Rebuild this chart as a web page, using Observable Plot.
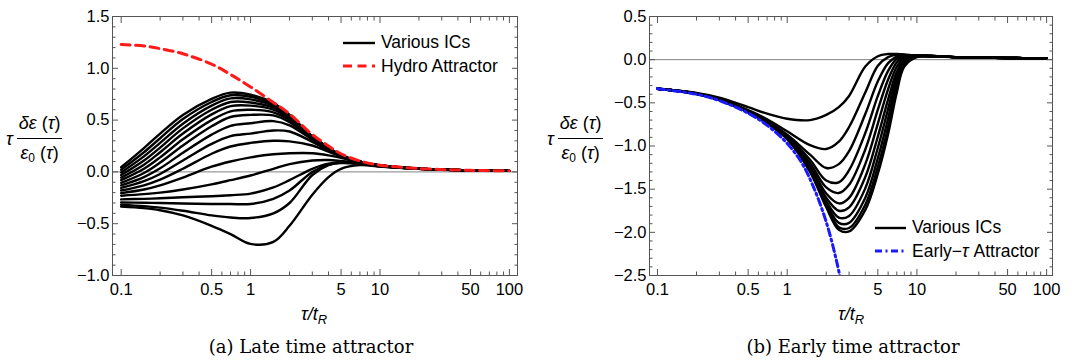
<!DOCTYPE html>
<html>
<head>
<meta charset="utf-8">
<script src="https://cdn.jsdelivr.net/npm/d3@7"></script>
<script src="https://cdn.jsdelivr.net/npm/@observablehq/plot@0.6"></script>
<style>
  body { margin: 0; background: #fff; }
  #root { position: relative; width: 1080px; height: 363px; overflow: hidden; font-family: "Liberation Sans", Arial, sans-serif; color: #000; }
  .panel { position: absolute; top: 0; width: 540px; height: 363px; }
  .panel svg.plot { position: absolute; left: 0; top: 0; }
  .caption { position: absolute; top: 336px; left: 0; text-align: center; font-family: "DejaVu Serif", serif; font-size: 18px; white-space: nowrap; }
  .xlabel { position: absolute; top: 304px; font-size: 18px; font-style: italic; white-space: nowrap; }
  .xlabel sub { font-size: 13px; vertical-align: -4px; }
  .ylabel { position: absolute; top: 113px; display: flex; align-items: center; font-size: 18px; }
  .ylabel .tau { font-style: italic; margin-right: 4px; }
  .frac { display: flex; flex-direction: column; align-items: center; }
  .frac .num { padding: 0 2px 4px 2px; border-bottom: 1px solid #000; white-space: nowrap; }
  .frac .den { padding: 4px 2px 0 2px; white-space: nowrap; }
  .frac i { font-style: italic; }
  .frac sub { font-size: 12px; vertical-align: -3px; }
  .legend { position: absolute; font-size: 17.5px; }
  .legend .row { display: flex; align-items: center; height: 23.5px; white-space: nowrap; }
  .legend svg { margin-right: 6px; }
</style>
</head>
<body>
<div id="root"></div>
<script>
// ---------- shared axis ticks ----------
const xMajorTicks = [0.1, 0.5, 1, 5, 10, 50, 100];
const xMinorTicks = [0.2, 0.3, 0.4, 0.6, 0.7, 0.8, 0.9, 2, 3, 4, 6, 7, 8, 9, 20, 30, 40, 60, 70, 80, 90];
const yMajorLate = [-1, -0.5, 0, 0.5, 1, 1.5];
const yMajorEarly = [-2.5, -2, -1.5, -1, -0.5, 0, 0.5];

// ---------- panel (a): late time attractor ----------
const tauLate = [0.1, 0.15, 0.2, 0.3, 0.5, 0.7, 1, 1.5, 2, 3, 4, 5, 7, 10, 20, 50, 100];
const hydroAttractor = [1.23, 1.215, 1.19, 1.14, 1.04, 0.94, 0.82, 0.67, 0.56, 0.36, 0.25, 0.175, 0.105, 0.065, 0.033, 0.015, 0.01];
const lateICs = [
  [0.045, 0.23, 0.37, 0.55, 0.705, 0.765, 0.745, 0.665, 0.55, 0.345, 0.235, 0.163, 0.10, 0.063, 0.032, 0.015, 0.01],
  [0.02, 0.19, 0.325, 0.51, 0.675, 0.74, 0.725, 0.652, 0.543, 0.342, 0.233, 0.162, 0.10, 0.063, 0.032, 0.015, 0.01],
  [-0.005, 0.15, 0.28, 0.465, 0.64, 0.71, 0.70, 0.638, 0.535, 0.339, 0.231, 0.161, 0.099, 0.063, 0.032, 0.015, 0.01],
  [-0.03, 0.11, 0.235, 0.42, 0.60, 0.675, 0.67, 0.62, 0.525, 0.335, 0.229, 0.16, 0.099, 0.062, 0.032, 0.015, 0.01],
  [-0.055, 0.07, 0.19, 0.37, 0.555, 0.635, 0.64, 0.60, 0.512, 0.331, 0.227, 0.159, 0.098, 0.062, 0.032, 0.015, 0.01],
  [-0.08, 0.03, 0.14, 0.315, 0.50, 0.585, 0.60, 0.575, 0.498, 0.326, 0.225, 0.158, 0.098, 0.062, 0.032, 0.015, 0.01],
  [-0.105, -0.01, 0.09, 0.255, 0.44, 0.53, 0.55, 0.545, 0.48, 0.32, 0.222, 0.157, 0.097, 0.062, 0.032, 0.015, 0.01],
  [-0.13, -0.05, 0.035, 0.185, 0.36, 0.445, 0.47, 0.49, 0.45, 0.31, 0.218, 0.155, 0.097, 0.061, 0.032, 0.015, 0.01],
  [-0.155, -0.09, -0.02, 0.11, 0.27, 0.345, 0.37, 0.40, 0.39, 0.29, 0.21, 0.152, 0.096, 0.061, 0.032, 0.015, 0.01],
  [-0.18, -0.13, -0.075, 0.03, 0.175, 0.245, 0.28, 0.30, 0.295, 0.255, 0.195, 0.148, 0.095, 0.061, 0.032, 0.015, 0.01],
  [-0.205, -0.17, -0.13, -0.055, 0.05, 0.10, 0.14, 0.17, 0.18, 0.18, 0.16, 0.135, 0.092, 0.06, 0.032, 0.015, 0.01],
  [-0.23, -0.215, -0.2, -0.17, -0.12, -0.08, -0.035, 0.03, 0.075, 0.11, 0.115, 0.105, 0.085, 0.058, 0.031, 0.015, 0.01],
  [-0.265, -0.26, -0.255, -0.245, -0.235, -0.225, -0.21, -0.15, -0.08, 0.03, 0.08, 0.09, 0.08, 0.056, 0.031, 0.015, 0.01],
  [-0.295, -0.298, -0.30, -0.305, -0.31, -0.31, -0.31, -0.26, -0.18, 0.0, 0.07, 0.085, 0.077, 0.055, 0.031, 0.015, 0.01],
  [-0.318, -0.33, -0.345, -0.375, -0.42, -0.44, -0.445, -0.40, -0.30, -0.03, 0.065, 0.09, 0.08, 0.054, 0.03, 0.015, 0.01],
  [-0.335, -0.35, -0.37, -0.42, -0.52, -0.60, -0.695, -0.675, -0.52, -0.22, -0.05, 0.03, 0.065, 0.052, 0.03, 0.015, 0.01]
];

// ---------- panel (b): early time attractor ----------
const tauEarly = [0.1, 0.2, 0.3, 0.5, 0.7, 1, 1.5, 2, 2.5, 3, 4, 5, 6, 7, 8, 10, 20, 50, 100];
const earlyICs = [
  [-0.337, -0.385, -0.44, -0.55, -0.625, -0.685, -0.70, -0.64, -0.55, -0.42, -0.08, 0.04, 0.065, 0.065, 0.06, 0.045, 0.03, 0.02, 0.015],
  [-0.337, -0.39, -0.455, -0.585, -0.69, -0.83, -0.99, -1.035, -0.95, -0.78, -0.38, -0.07, 0.03, 0.055, 0.055, 0.045, 0.03, 0.02, 0.015],
  [-0.337, -0.392, -0.46, -0.595, -0.71, -0.87, -1.10, -1.255, -1.21, -1.06, -0.63, -0.25, -0.04, 0.035, 0.05, 0.045, 0.03, 0.02, 0.015],
  [-0.337, -0.393, -0.463, -0.60, -0.72, -0.89, -1.16, -1.40, -1.42, -1.28, -0.85, -0.42, -0.13, 0.01, 0.045, 0.045, 0.03, 0.02, 0.015],
  [-0.337, -0.394, -0.465, -0.603, -0.726, -0.90, -1.20, -1.48, -1.545, -1.45, -1.04, -0.58, -0.23, -0.03, 0.035, 0.045, 0.03, 0.02, 0.015],
  [-0.337, -0.394, -0.466, -0.605, -0.73, -0.905, -1.23, -1.55, -1.665, -1.60, -1.21, -0.74, -0.34, -0.08, 0.02, 0.045, 0.03, 0.02, 0.015],
  [-0.337, -0.395, -0.466, -0.606, -0.732, -0.91, -1.25, -1.60, -1.75, -1.71, -1.36, -0.89, -0.46, -0.14, 0.0, 0.042, 0.03, 0.02, 0.015],
  [-0.337, -0.395, -0.467, -0.607, -0.734, -0.913, -1.27, -1.64, -1.83, -1.81, -1.49, -1.02, -0.57, -0.19, -0.01, 0.04, 0.03, 0.02, 0.015],
  [-0.337, -0.395, -0.467, -0.608, -0.735, -0.916, -1.28, -1.67, -1.89, -1.89, -1.60, -1.14, -0.68, -0.25, -0.03, 0.038, 0.03, 0.02, 0.015],
  [-0.337, -0.395, -0.467, -0.608, -0.736, -0.918, -1.29, -1.69, -1.94, -1.95, -1.68, -1.24, -0.78, -0.31, -0.05, 0.035, 0.03, 0.02, 0.015],
  [-0.337, -0.395, -0.468, -0.609, -0.737, -0.92, -1.30, -1.71, -1.97, -1.99, -1.74, -1.32, -0.86, -0.38, -0.08, 0.03, 0.03, 0.02, 0.015]
];
const tauEarlyAttr = [0.1, 0.2, 0.3, 0.5, 0.7, 1, 1.3, 1.6, 2, 2.4, 2.7];
const earlyAttractor = [-0.337, -0.40, -0.475, -0.62, -0.76, -0.97, -1.2, -1.48, -1.88, -2.33, -2.7];

// ---------- helpers ----------
const fmtY = d => d3.format(".1f")(d).replace("-", "\u2212");
const fmtX = d => String(d);
const FRAME = "#555";

function makePanel(opts) {
  const icRows = opts.ics.flatMap((vals, k) => vals.map((v, i) => ({tau: opts.tau[i], v, k})));
  const attrRows = opts.attrTau.map((t, i) => ({tau: t, v: opts.attrVal[i]}));
  const [y0, y1] = opts.yDomain;
  const yMinor = d3.range(Math.round(y0 * 10), Math.round(y1 * 10) + 1)
    .map(d => d / 10).filter(d => !opts.yMajor.some(m => Math.abs(m - d) < 1e-9));
  const tickStyle = {fill: "none", stroke: FRAME, label: null};
  return Plot.plot({
    width: 540, height: 330,
    marginLeft: opts.marginLeft, marginRight: opts.marginRight, marginTop: 16, marginBottom: 55,
    x: {type: "log", domain: opts.xDomain},
    y: {domain: opts.yDomain},
    style: {fontFamily: "'Liberation Sans', Arial, sans-serif", fontSize: "16.5px", color: "#000", background: "transparent"},
    className: "plot",
    marks: [
      Plot.ruleY([0], {stroke: "#808080", strokeWidth: 1}),
      Plot.line(icRows, {x: "tau", y: "v", z: "k", stroke: "#000", strokeWidth: 2.4, curve: "catmull-rom", clip: true}),
      Plot.line(attrRows, {x: "tau", y: "v", stroke: opts.attrColor, strokeWidth: 3, strokeDasharray: opts.attrDash, curve: "catmull-rom", clip: true}),
      Plot.frame({stroke: FRAME, strokeWidth: 1}),
      Plot.axisX(xMajorTicks, {anchor: "bottom", tickSize: -6, ...tickStyle}),
      Plot.axisX(xMajorTicks, {anchor: "top", tickSize: -6, ...tickStyle}),
      Plot.axisX(xMinorTicks, {anchor: "bottom", tickSize: -3.5, ...tickStyle}),
      Plot.axisX(xMinorTicks, {anchor: "top", tickSize: -3.5, ...tickStyle}),
      Plot.axisY(opts.yMajor, {anchor: "left", tickSize: -6, ...tickStyle}),
      Plot.axisY(opts.yMajor, {anchor: "right", tickSize: -6, ...tickStyle}),
      Plot.axisY(yMinor, {anchor: "left", tickSize: -3.5, ...tickStyle}),
      Plot.axisY(yMinor, {anchor: "right", tickSize: -3.5, ...tickStyle}),
      Plot.axisX(xMajorTicks, {anchor: "bottom", ticks: 1000, tickSize: 0, tickPadding: 8, tickFormat: fmtX, label: null, stroke: "none"}),
      Plot.axisY(opts.yMajor, {anchor: "left", tickSize: 0, tickPadding: 3, tickFormat: fmtY, label: null, stroke: "none"})
    ]
  });
}

function legendRow(stroke, dash, width, label) {
  return `<div class="row"><svg width="${width}" height="12"><line x1="0" y1="6" x2="${width}" y2="6" stroke="${stroke}" stroke-width="${dash ? 3 : 2.4}" ${dash ? `stroke-dasharray="${dash}"` : ""}/></svg><span>${label}</span></div>`;
}

function buildPanel(left, cfg) {
  const p = document.createElement("div");
  p.className = "panel";
  p.style.left = left + "px";
  p.appendChild(makePanel(cfg));
  p.insertAdjacentHTML("beforeend", `
    <div class="ylabel" style="left:${cfg.yLabelLeft}px"><span class="tau">τ</span>
      <span class="frac"><span class="num"><i>δε</i> (<i>τ</i>)</span><span class="den"><i>ε</i><sub>0</sub> (<i>τ</i>)</span></span></div>
    <div class="xlabel" style="left:${cfg.xLabelLeft}px">τ/t<sub>R</sub></div>
    <div class="legend" style="left:${cfg.legendLeft}px;top:${cfg.legendTop}px">
      ${legendRow("#000", null, cfg.legendLine, "Various ICs")}
      ${legendRow(cfg.attrColor, cfg.attrDash, cfg.legendLine, cfg.attrLabel)}
    </div>
    <div class="caption" style="left:${cfg.captionLeft}px;width:${cfg.captionWidth}px">${cfg.caption}</div>`);
  return p;
}

const root = document.getElementById("root");
root.appendChild(buildPanel(0, {
  tau: tauLate, ics: lateICs, attrTau: tauLate, attrVal: hydroAttractor,
  attrColor: "#ff1a1a", attrDash: "9,5.5", attrLabel: "Hydro Attractor",
  xDomain: [0.0857, 115.5], yDomain: [-1, 1.5], yMajor: yMajorLate,
  marginLeft: 112, marginRight: 23,
  yLabelLeft: 6, xLabelLeft: 301, legendLeft: 343, legendTop: 31, legendLine: 32,
  caption: "(a) Late time attractor", captionLeft: 111, captionWidth: 400
}));
root.appendChild(buildPanel(540, {
  tau: tauEarly, ics: earlyICs, attrTau: tauEarlyAttr, attrVal: earlyAttractor,
  attrColor: "#1a1aff", attrDash: "7,3.5,2,3.5", attrLabel: "Early\u2212<i>τ</i> Attractor",
  xDomain: [0.0868, 111], yDomain: [-2.5, 0.5], yMajor: yMajorEarly,
  marginLeft: 109, marginRight: 28,
  yLabelLeft: 7, xLabelLeft: 298, legendLeft: 335, legendTop: 216, legendLine: 31,
  caption: "(b) Early time attractor", captionLeft: 113, captionWidth: 400
}));
</script>
</body>
</html>
